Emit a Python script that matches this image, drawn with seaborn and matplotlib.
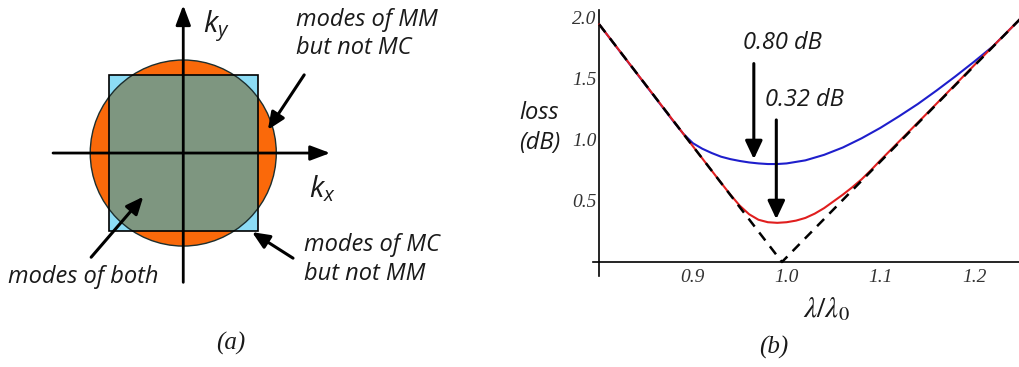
import numpy as np
import seaborn as sns
import matplotlib.pyplot as plt
from matplotlib.patches import Circle, Rectangle

# ---- panel (b) data: loss (dB) vs lambda/lambda0 ----
x_mm = [0.80, 0.85, 0.88, 0.89, 0.90, 0.91, 0.92, 0.93, 0.94, 0.95, 0.96, 0.97,
        0.98, 0.99, 1.00, 1.02, 1.04, 1.06, 1.08, 1.10, 1.12, 1.14, 1.16, 1.18,
        1.20, 1.22, 1.25]
loss_mm = [1.94, 1.44, 1.14, 1.045, 0.97, 0.925, 0.89, 0.86, 0.84, 0.825, 0.813, 0.805,
           0.80, 0.80, 0.805, 0.83, 0.875, 0.935, 1.01, 1.095, 1.19, 1.29, 1.40, 1.515,
           1.635, 1.76, 1.99]

x_mc = [0.80, 0.85, 0.90, 0.93, 0.94, 0.95, 0.96, 0.97, 0.98, 0.99, 1.00, 1.01,
        1.02, 1.03, 1.04, 1.05, 1.06, 1.07, 1.08, 1.09, 1.10, 1.15, 1.20, 1.25]
loss_mc = [1.94, 1.443, 0.945, 0.647, 0.55, 0.46, 0.39, 0.345, 0.325, 0.32, 0.325, 0.338,
           0.36, 0.395, 0.44, 0.495, 0.55, 0.61, 0.675, 0.75, 0.83, 1.215, 1.605, 1.99]

x_ideal = [0.80, 0.995, 1.25]
loss_ideal = [1.94, 0.0, 1.99]

x_ticks = [0.9, 1.0, 1.1, 1.2]
x_ticklabels = ["0.9", "1.0", "1.1", "1.2"]
y_ticks = [0.5, 1.0, 1.5, 2.0]
y_ticklabels = ["0.5", "1.0", "1.5", "2.0"]

min_labels = ["0.80 dB", "0.32 dB"]
arrow_x = [0.965, 0.989]
arrow_tail = [1.62, 1.16]
arrow_tip = [0.84, 0.35]
label_xy = [(0.996, 1.79), (1.019, 1.32)]

# ---- panel (a) geometry (k-space, circle radius = 1) ----
circle_r = 1.0
square_hw = 0.80
square_hh = 0.84

ORANGE = "#FA690A"
CYAN = "#8CDCF5"
OVERLAP = "#7E9680"
SANS = ["Open Sans", "DejaVu Sans"]
SERIF = ["Liberation Serif", "DejaVu Serif"]

sns.set_style("white")
plt.rcParams["font.family"] = SANS
plt.rcParams["text.color"] = "#1a1a1a"
plt.rcParams["mathtext.fontset"] = "custom"
plt.rcParams["mathtext.it"] = "Open Sans:italic"
plt.rcParams["mathtext.rm"] = "Open Sans"

fig = plt.figure(figsize=(10.19, 3.67), dpi=100)

# ---------------- panel (a) ----------------
ax_a = fig.add_axes([0, 0, 560 / 1019, 1])
ax_a.set_xlim(-1.97, 4.05)
ax_a.set_ylim(-2.30, 1.645)
ax_a.axis("off")

ax_a.add_patch(Circle((0, 0), circle_r, facecolor=ORANGE, edgecolor="none", zorder=1))
sq = Rectangle((-square_hw, -square_hh), 2 * square_hw, 2 * square_hh,
               facecolor=CYAN, edgecolor="none", zorder=2)
ax_a.add_patch(sq)
both = Circle((0, 0), circle_r, facecolor=OVERLAP, edgecolor="none", zorder=3)
ax_a.add_patch(both)
both.set_clip_path(sq)
ax_a.add_patch(Circle((0, 0), circle_r, facecolor="none", edgecolor="#1c2e2e", lw=1.0, zorder=4))
ax_a.add_patch(Rectangle((-square_hw, -square_hh), 2 * square_hw, 2 * square_hh,
                         facecolor="none", edgecolor="black", lw=1.2, zorder=4))

axis_arrow = dict(arrowstyle="-|>,head_length=0.8,head_width=0.3", mutation_scale=15,
                  lw=2.0, color="black", shrinkA=0, shrinkB=0)
ax_a.annotate("", xy=(1.58, 0), xytext=(-1.40, 0), arrowprops=axis_arrow, zorder=5)
ax_a.annotate("", xy=(0, 1.59), xytext=(0, -1.39), arrowprops=axis_arrow, zorder=5)

ax_a.text(0.21, 1.36, "$k_y$", fontsize=21, va="center", ha="left")
ax_a.text(1.35, -0.38, "$k_x$", fontsize=21, va="center", ha="left")

ptr = dict(arrowstyle="-|>,head_length=0.8,head_width=0.35", mutation_scale=13,
           lw=2.2, color="black", shrinkA=0, shrinkB=0)
ax_a.annotate("", xy=(0.91, 0.25), xytext=(1.30, 0.84), arrowprops=ptr, zorder=6)
ax_a.annotate("", xy=(-0.43, -0.47), xytext=(-0.99, -1.12), arrowprops=ptr, zorder=6)
ax_a.annotate("", xy=(0.74, -0.85), xytext=(1.18, -1.13), arrowprops=ptr, zorder=6)

ax_a.text(1.21, 1.56, "modes of MM\nbut not MC", fontsize=17, style="italic",
          va="top", ha="left", linespacing=1.25)
ax_a.text(1.30, -0.86, "modes of MC\nbut not MM", fontsize=17, style="italic",
          va="top", ha="left", linespacing=1.25)
ax_a.text(-1.88, -1.33, "modes of both", fontsize=17, style="italic",
          va="center", ha="left")

fig.text(231 / 1019, 1 - 343 / 367, "(a)", family=SERIF, style="italic",
         fontsize=18, ha="center", va="center")

# ---------------- panel (b) ----------------
ax_b = fig.add_axes([0.5816, 0.2493, 0.4184, 0.7243])
sns.lineplot(x=x_mm, y=loss_mm, ax=ax_b, color="#1E1ECC", lw=1.5,
             estimator=None, sort=False, zorder=2)
sns.lineplot(x=x_mc, y=loss_mc, ax=ax_b, color="#E01E1E", lw=1.5,
             estimator=None, sort=False, zorder=3)
sns.lineplot(x=x_ideal, y=loss_ideal, ax=ax_b, color="black", lw=1.8,
             linestyle=(0, (4, 3)), estimator=None, sort=False, zorder=4)

ax_b.set_xlim(0.793, 1.248)
ax_b.set_ylim(-0.11, 2.06)
ax_b.spines["top"].set_visible(False)
ax_b.spines["right"].set_visible(False)
ax_b.spines["bottom"].set_position(("data", 0))
ax_b.spines["left"].set_position(("data", 0.8))
for s in ("bottom", "left"):
    ax_b.spines[s].set_linewidth(1.2)
    ax_b.spines[s].set_color("black")

ax_b.set_xticks(x_ticks)
ax_b.set_xticklabels(x_ticklabels, family=SERIF, style="italic", fontsize=14, color="#333333")
ax_b.set_xticks(np.arange(0.82, 1.245, 0.02), minor=True)
ax_b.set_yticks(y_ticks)
ax_b.set_yticklabels(y_ticklabels, family=SERIF, style="italic", fontsize=14, color="#333333")
ax_b.set_yticks([v for v in np.arange(0.1, 2.05, 0.1) if abs(v * 2 - round(v * 2)) > 1e-6], minor=True)
ax_b.tick_params(which="major", direction="in", length=5, width=0.9, color="#333333")
ax_b.tick_params(which="minor", direction="in", length=2.5, width=0.7, color="#555555")
ax_b.tick_params(axis="x", pad=5)
ax_b.tick_params(axis="y", pad=2)
ax_b.set_xlabel("")
ax_b.set_ylabel("")

tip = dict(arrowstyle="-|>,head_length=0.85,head_width=0.4", mutation_scale=13,
           lw=2.2, color="black", shrinkA=0, shrinkB=0)
for lab, x, y0, y1, (tx, ty) in zip(min_labels, arrow_x, arrow_tail, arrow_tip, label_xy):
    ax_b.annotate("", xy=(x, y1), xytext=(x, y0), arrowprops=tip, zorder=6)
    ax_b.text(tx, ty, lab, fontsize=17, style="italic", ha="center", va="center")

fig.text(519 / 1019, 1 - 128 / 367, "loss\n(dB)", fontsize=17, style="italic",
         ha="left", va="center", linespacing=1.3)
fig.text(826 / 1019, 1 - 310 / 367, r"$\lambda/\lambda_{\mathit{0}}$", fontsize=21,
         math_fontfamily="stix", ha="center", va="center")
fig.text(774 / 1019, 1 - 347 / 367, "(b)", family=SERIF, style="italic",
         fontsize=18, ha="center", va="center")

fig.savefig("out.png", dpi=100)
